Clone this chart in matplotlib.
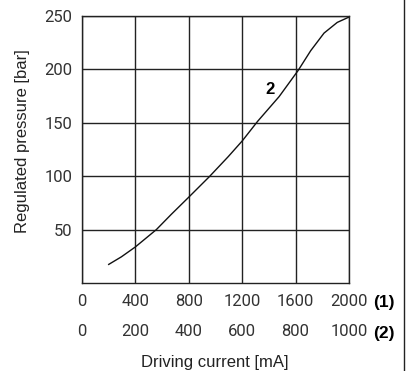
import matplotlib
matplotlib.use("Agg")
import matplotlib.pyplot as plt
from matplotlib.lines import Line2D

# Data
current_ma = [200, 295, 400, 557, 669, 800, 955, 1096, 1200, 1315, 1477, 1619, 1713, 1813, 1912, 2000]
pressure_bar = [17.4, 24.5, 33.8, 50, 64.3, 80.4, 99.7, 118.4, 133, 151.3, 174.6, 199, 217.5, 234, 244, 249]
xticks_1 = [0, 400, 800, 1200, 1600, 2000]
xticks_2 = [0, 200, 400, 600, 800, 1000]
yticks = [50, 100, 150, 200, 250]
curve_label = "2"

num_font = ['Roboto', 'DejaVu Sans']
txt_font = ['Liberation Sans', 'DejaVu Sans']
num_kw = dict(family=num_font, fontsize=12, fontweight='normal', color='#333333')

fig = plt.figure(figsize=(4.10, 3.71), dpi=100)
ax = fig.add_axes([82/410, 1-283/371, (349-82)/410, (283-16)/371])

ax.plot(current_ma, pressure_bar, color='#111111', lw=1.0)
ax.set_xlim(0, 2000)
ax.set_ylim(0, 250)

ax.set_xticks(xticks_1)
ax.set_xticklabels([str(v) for v in xticks_1], **num_kw)
ax.set_yticks(yticks)
ax.set_yticklabels([str(v) for v in yticks], **num_kw)
ax.tick_params(axis='both', length=0)
ax.tick_params(axis='x', pad=8)
ax.tick_params(axis='y', pad=7)
ax.grid(True, color='#222222', lw=1.0)
for s in ax.spines.values():
    s.set_color('#222222')
    s.set_linewidth(1.0)

sec = ax.secondary_xaxis(-0.155, functions=(lambda x: x / 2, lambda x: x * 2))
sec.set_xticks(xticks_2)
sec.set_xticklabels([str(v) for v in xticks_2], **num_kw)
sec.tick_params(axis='x', length=0, pad=0)
sec.spines['bottom'].set_visible(False)

ax.text(1.092, -0.0717, "(1)", transform=ax.transAxes, fontsize=12.5, fontweight='bold',
        family=txt_font, ha='left', va='center')
ax.text(1.092, -0.1873, "(2)", transform=ax.transAxes, fontsize=12.5, fontweight='bold',
        family=txt_font, ha='left', va='center')

ax.text(1410, 181.5, curve_label, fontsize=12, fontweight='bold', family=txt_font,
        ha='center', va='center')

fig.text(23/410, 1-141.5/371, "Regulated pressure [bar]", family=txt_font, fontsize=12,
         rotation=90, ha='center', va='center', color='#222222')
fig.text(214.5/410, 1-362.5/371, "Driving current [mA]", family=txt_font, fontsize=12,
         ha='center', va='center', color='#222222')

fig.add_artist(Line2D([404/410, 404/410], [0, 1], color='#222222', lw=1.0,
                      transform=fig.transFigure))

fig.savefig("out.png", dpi=100)
